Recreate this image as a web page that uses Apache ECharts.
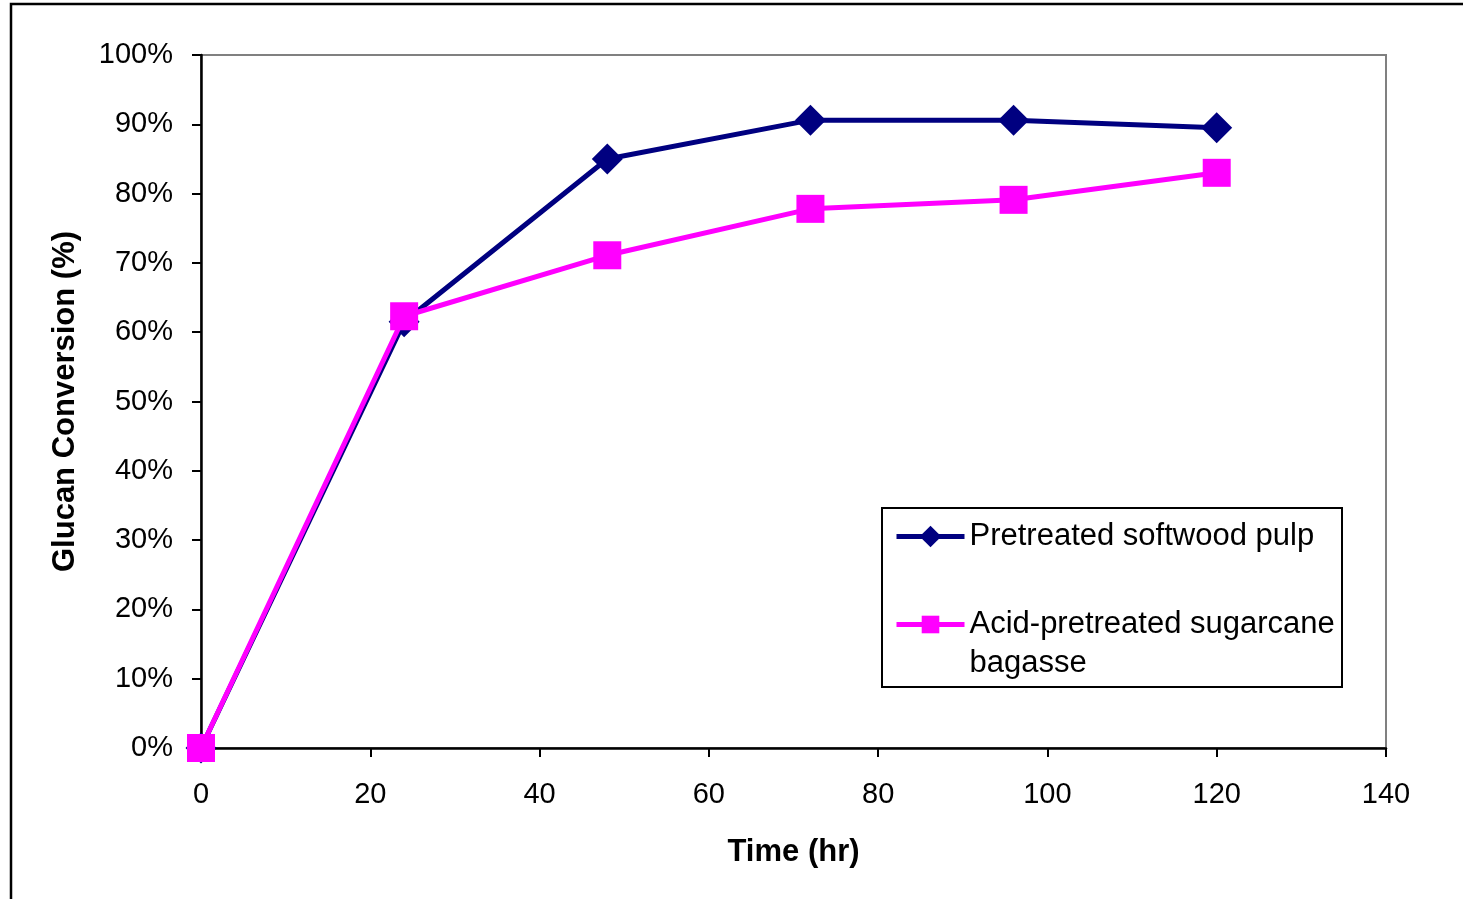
<!DOCTYPE html>
<html>
<head>
<meta charset="utf-8">
<script src="https://cdn.jsdelivr.net/npm/echarts@6/dist/echarts.min.js"></script>
<style>
html,body{margin:0;padding:0;background:#fff;}
#chart{width:1463px;height:899px;}
</style>
</head>
<body>
<div id="chart"></div>
<script>
const timeHours = [0, 24, 48, 72, 96, 120];
const softwood = [0, 61.5, 85.0, 90.6, 90.6, 89.5];
const bagasse = [0, 62.3, 71.1, 77.8, 79.1, 83.0];
const seriesNames = ['Pretreated softwood pulp', 'Acid-pretreated sugarcane bagasse'];
const xTitle = 'Time (hr)';
const yTitle = 'Glucan Conversion (%)';

const FONT = '"Liberation Sans", Arial, sans-serif';
const chart = echarts.init(document.getElementById('chart'));

function pairs(xs, ys){ return xs.map((x,i)=>[x, ys[i]]); }

chart.setOption({
  animation: false,
  backgroundColor: '#fff',
  graphic: [
    { type: 'rect', shape: { x: 11, y: 4, width: 1470, height: 910 },
      style: { fill: 'none', stroke: '#000', lineWidth: 2.5 }, z: 0 },
    { type: 'rect', shape: { x: 882, y: 508, width: 460, height: 179 },
      style: { fill: '#fff', stroke: '#000', lineWidth: 2 }, z: 5 }
  ],
  grid: { left: 201, top: 55, right: 77, bottom: 151, show: true,
          borderColor: '#808080', borderWidth: 2, backgroundColor: 'transparent' },
  xAxis: {
    type: 'value', min: 0, max: 140, interval: 20,
    name: xTitle, nameLocation: 'middle', nameGap: 89,
    nameTextStyle: { fontFamily: FONT, fontSize: 31, fontWeight: 'bold', color: '#000' },
    axisLine: { show: true, onZero: false, lineStyle: { color: '#000', width: 2.5 } },
    axisTick: { show: true, inside: false, length: 9, lineStyle: { color: '#000', width: 2 } },
    axisLabel: { fontFamily: FONT, fontSize: 29, color: '#000', margin: 32 },
    splitLine: { show: false }
  },
  yAxis: {
    type: 'value', min: 0, max: 100, interval: 10,
    name: yTitle, nameLocation: 'middle', nameGap: 120, nameRotate: 90,
    nameTextStyle: { fontFamily: FONT, fontSize: 31, fontWeight: 'bold', color: '#000' },
    axisLine: { show: true, lineStyle: { color: '#000', width: 2.5 } },
    axisTick: { show: true, inside: false, length: 9, lineStyle: { color: '#000', width: 2 } },
    axisLabel: { fontFamily: FONT, fontSize: 29, color: '#000', margin: 28, formatter: '{value}%' },
    splitLine: { show: false }
  },
  legend: [
    {
      data: [seriesNames[0]], selectedMode: false, orient: 'vertical',
      left: 894, top: 517, padding: 0, itemWidth: 68, itemHeight: 27, z: 10,
      lineStyle: { width: 5 },
      textStyle: { fontFamily: FONT, fontSize: 31, color: '#000', lineHeight: 39 }
    },
    {
      data: [seriesNames[1]], selectedMode: false, orient: 'vertical',
      left: 894, top: 566, padding: 0, itemWidth: 68, itemHeight: 22, z: 10,
      lineStyle: { width: 5 },
      formatter: function(n){ return '\nAcid-pretreated sugarcane\nbagasse'; },
      textStyle: { fontFamily: FONT, fontSize: 31, color: '#000', lineHeight: 39 }
    }
  ],
  series: [
    {
      name: seriesNames[0], type: 'line', data: pairs(timeHours, softwood),
      symbol: 'diamond', symbolSize: 31,
      lineStyle: { color: '#000080', width: 5 },
      itemStyle: { color: '#000080' }, z: 3
    },
    {
      name: seriesNames[1], type: 'line', data: pairs(timeHours, bagasse),
      symbol: 'rect', symbolSize: 28,
      lineStyle: { color: '#FF00FF', width: 5 },
      itemStyle: { color: '#FF00FF' }, z: 4
    }
  ]
});
</script>
</body>
</html>
